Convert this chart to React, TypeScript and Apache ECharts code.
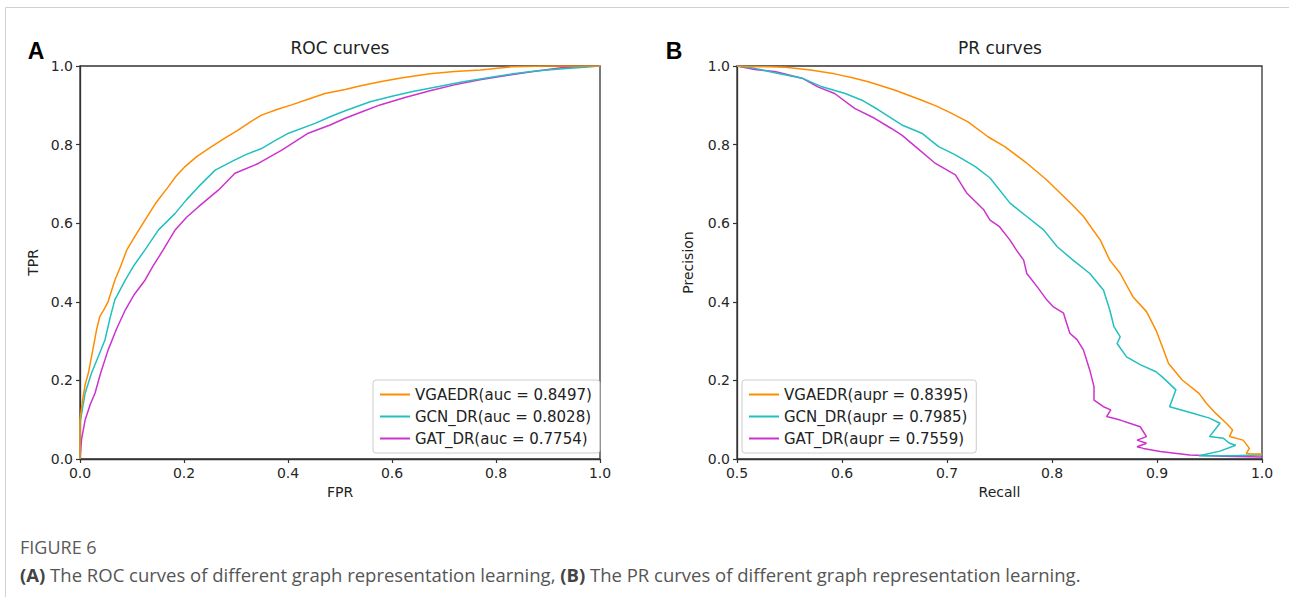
import React, { useEffect, useRef } from "react";
import * as echarts from "echarts";

const COLORS = ["#ff8c00", "#22bfbf", "#cc33cc"];

const rocNames = ["VGAEDR(auc = 0.8497)", "GCN_DR(auc = 0.8028)", "GAT_DR(auc = 0.7754)"];
const prNames = ["VGAEDR(aupr = 0.8395)", "GCN_DR(aupr = 0.7985)", "GAT_DR(aupr = 0.7559)"];

const rocTicks = [0, 0.2, 0.4, 0.6, 0.8, 1.0];
const prTicks = [0.5, 0.6, 0.7, 0.8, 0.9, 1.0];

const rocVgaedr = [[0,0],[0,0.10],[0.005,0.15],[0.01,0.19],[0.016,0.218],[0.025,0.28],[0.032,0.33],[0.038,0.362],[0.046,0.38],[0.054,0.40],[0.067,0.455],[0.078,0.49],[0.09,0.532],[0.105,0.565],[0.125,0.608],[0.145,0.65],[0.17,0.693],[0.185,0.72],[0.202,0.744],[0.225,0.77],[0.253,0.795],[0.28,0.818],[0.304,0.837],[0.33,0.86],[0.349,0.875],[0.38,0.89],[0.407,0.901],[0.44,0.916],[0.471,0.93],[0.51,0.94],[0.54,0.95],[0.577,0.96],[0.62,0.97],[0.673,0.98],[0.72,0.986],[0.77,0.99],[0.83,0.998],[0.9,1.0],[1,1]];
const rocGcn = [[0,0],[0,0.09],[0.005,0.13],[0.01,0.168],[0.022,0.218],[0.035,0.26],[0.048,0.303],[0.058,0.36],[0.067,0.405],[0.087,0.455],[0.105,0.495],[0.125,0.532],[0.151,0.583],[0.183,0.625],[0.205,0.66],[0.228,0.693],[0.26,0.735],[0.298,0.761],[0.32,0.775],[0.349,0.79],[0.375,0.81],[0.401,0.829],[0.452,0.854],[0.481,0.871],[0.51,0.886],[0.558,0.909],[0.6,0.923],[0.64,0.935],[0.69,0.948],[0.737,0.96],[0.785,0.97],[0.833,0.98],[0.88,0.988],[0.929,0.993],[0.97,0.997],[1,1]];
const rocGat = [[0,0],[0.003,0.05],[0.01,0.1],[0.02,0.14],[0.029,0.168],[0.04,0.22],[0.054,0.277],[0.07,0.33],[0.087,0.379],[0.105,0.42],[0.125,0.455],[0.14,0.49],[0.16,0.532],[0.183,0.583],[0.205,0.615],[0.228,0.642],[0.266,0.684],[0.298,0.727],[0.343,0.752],[0.388,0.786],[0.439,0.829],[0.481,0.85],[0.51,0.867],[0.545,0.885],[0.577,0.901],[0.625,0.92],[0.673,0.937],[0.72,0.952],[0.769,0.965],[0.82,0.976],[0.865,0.985],[0.929,0.996],[0.97,0.999],[1,1]];

const prVgaedr = [[0.5,1.0],[0.546,0.997],[0.57,0.99],[0.593,0.98],[0.61,0.97],[0.625,0.96],[0.65,0.939],[0.676,0.913],[0.69,0.898],[0.704,0.88],[0.72,0.858],[0.739,0.82],[0.755,0.795],[0.775,0.755],[0.795,0.71],[0.808,0.676],[0.82,0.645],[0.83,0.617],[0.846,0.557],[0.855,0.506],[0.865,0.472],[0.877,0.413],[0.89,0.375],[0.899,0.328],[0.905,0.286],[0.911,0.243],[0.924,0.201],[0.94,0.167],[0.947,0.142],[0.956,0.116],[0.966,0.091],[0.972,0.074],[0.969,0.057],[0.982,0.048],[0.988,0.027],[0.985,0.014],[0.99,0.013],[1.0,0.013]];
const prGcn = [[0.5,1.0],[0.517,0.994],[0.536,0.983],[0.562,0.969],[0.581,0.947],[0.603,0.93],[0.619,0.913],[0.635,0.888],[0.657,0.85],[0.676,0.829],[0.692,0.795],[0.708,0.774],[0.727,0.744],[0.741,0.715],[0.76,0.651],[0.776,0.617],[0.792,0.583],[0.805,0.54],[0.82,0.506],[0.836,0.472],[0.849,0.43],[0.855,0.379],[0.859,0.337],[0.865,0.311],[0.862,0.294],[0.871,0.26],[0.884,0.24],[0.899,0.222],[0.905,0.209],[0.918,0.176],[0.912,0.133],[0.935,0.116],[0.95,0.104],[0.96,0.091],[0.95,0.057],[0.963,0.053],[0.969,0.04],[0.975,0.035],[0.96,0.02],[0.94,0.008],[0.97,0.008],[1.0,0.01]];
const prGat = [[0.5,1.0],[0.517,0.991],[0.536,0.986],[0.562,0.969],[0.577,0.947],[0.593,0.93],[0.612,0.892],[0.631,0.867],[0.647,0.841],[0.657,0.824],[0.67,0.795],[0.689,0.752],[0.708,0.723],[0.719,0.676],[0.735,0.634],[0.741,0.608],[0.75,0.591],[0.76,0.557],[0.766,0.532],[0.773,0.506],[0.776,0.472],[0.786,0.438],[0.795,0.405],[0.801,0.388],[0.811,0.371],[0.814,0.345],[0.817,0.32],[0.824,0.303],[0.83,0.277],[0.836,0.226],[0.84,0.184],[0.84,0.15],[0.849,0.133],[0.856,0.125],[0.852,0.108],[0.865,0.099],[0.874,0.091],[0.884,0.082],[0.89,0.057],[0.881,0.048],[0.89,0.04],[0.881,0.031],[0.887,0.027],[0.903,0.019],[0.931,0.01],[0.963,0.007],[1.0,0.005]];

const FONT = "DejaVu Sans";
const AX = "#333333";

function axisCommon(name: string, gap: number, min: number, max: number) {
  return {
    type: "value",
    min,
    max,
    interval: 0.1,
    name,
    nameLocation: "middle",
    nameGap: gap,
    nameTextStyle: { fontFamily: FONT, fontSize: 14, color: "#222" },
    axisLine: { show: true, onZero: false, lineStyle: { color: AX, width: 1.3 } },
    axisTick: { show: true, inside: false, length: 4, lineStyle: { color: AX, width: 1.2 } },
    axisLabel: {
      fontFamily: FONT,
      fontSize: 14,
      color: "#262626",
      margin: 7,
      formatter: (v: number) => v.toFixed(1),
    },
    splitLine: { show: false },
  };
}

export default function App() {
  const ref = useRef<HTMLDivElement>(null);
  useEffect(() => {
    if (!ref.current) return;
    const chart = echarts.init(ref.current, null, { renderer: "svg" });
    const xA: any = { ...axisCommon("FPR", 25, 0, 1), gridIndex: 0, interval: 0.2 };
    const yA: any = { ...axisCommon("TPR", 40, 0, 1), gridIndex: 0, interval: 0.2 };
    const xB: any = { ...axisCommon("Recall", 25, 0.5, 1), gridIndex: 1, interval: 0.1 };
    const yB: any = { ...axisCommon("Precision", 42, 0, 1), gridIndex: 1, interval: 0.2 };
    const rocData = [rocVgaedr, rocGcn, rocGat];
    const prData = [prVgaedr, prGcn, prGat];
    const series: any[] = [];
    rocData.forEach((d, i) =>
      series.push({
        type: "line",
        name: rocNames[i],
        xAxisIndex: 0,
        yAxisIndex: 0,
        data: d,
        symbol: "none",
        lineStyle: { color: COLORS[i], width: 1.5 },
        itemStyle: { color: COLORS[i] },
        z: 10 - i,
      })
    );
    prData.forEach((d, i) =>
      series.push({
        type: "line",
        name: prNames[i],
        xAxisIndex: 1,
        yAxisIndex: 1,
        data: d,
        symbol: "none",
        lineStyle: { color: COLORS[i], width: 1.5 },
        itemStyle: { color: COLORS[i] },
        z: 10 - i,
      })
    );
    const legendCommon = {
      orient: "vertical",
      icon: "rect",
      itemWidth: 30,
      itemHeight: 2,
      itemGap: 7,
      padding: [7, 8, 7, 7],
      borderColor: "#cccccc",
      borderWidth: 1,
      borderRadius: 3,
      backgroundColor: "rgba(255,255,255,0.85)",
      textStyle: { fontFamily: FONT, fontSize: 15, color: "#222" },
      selectedMode: false,
    };
    const txt = (text: string, x: number, y: number, extra: any = {}) => ({
      type: "text",
      x,
      y,
      style: {
        text,
        fontFamily: FONT,
        fontSize: 16,
        fill: "#222",
        textAlign: "center",
        textVerticalAlign: "middle",
        align: "center",
        verticalAlign: "middle",
        ...extra,
      },
    });
    chart.setOption({
      animation: false,
      backgroundColor: "#ffffff",
      grid: [
        { left: 80, top: 66, width: 520, height: 393, show: true, borderColor: AX, borderWidth: 1.3, backgroundColor: "transparent" },
        { left: 737, top: 66, width: 525, height: 393, show: true, borderColor: AX, borderWidth: 1.3, backgroundColor: "transparent" },
      ],
      xAxis: [xA, xB],
      yAxis: [yA, yB],
      legend: [
        { ...legendCommon, data: rocNames, left: 373, top: 380 },
        { ...legendCommon, data: prNames, left: 742, top: 380 },
      ],
      series,
      graphic: [
        {
          type: "polyline",
          shape: { points: [[5.5, 620], [5.5, 7.5], [1300, 7.5]] },
          style: { stroke: "#d0d0d0", lineWidth: 1, fill: "none" },
          silent: true,
        },
        txt("ROC curves", 340, 48, { fontSize: 17 }),
        txt("PR curves", 1000, 48, { fontSize: 17 }),
        txt("A", 36, 51, { fontFamily: "Liberation Sans", fontWeight: "bold", fontSize: 23, fill: "#000" }),
        txt("B", 674, 51, { fontFamily: "Liberation Sans", fontWeight: "bold", fontSize: 23, fill: "#000" }),
        txt("FIGURE 6", 20, 547, { fontFamily: "Open Sans", fontSize: 18, fill: "#5a5a5a", textAlign: "left", align: "left" }),
        {
          type: "text",
          x: 20,
          y: 574,
          style: {
            text: "{b|(A)} The ROC curves of different graph representation learning, {b|(B)} The PR curves of different graph representation learning.",
            fontFamily: "Open Sans",
            fontSize: 18.5,
            fill: "#555",
            textAlign: "left",
            textVerticalAlign: "middle",
            align: "left",
            verticalAlign: "middle",
            rich: {
              b: { fontFamily: "Open Sans", fontSize: 18.5, fontWeight: "bold", fill: "#444" },
            },
          },
        },
      ],
    });
    return () => chart.dispose();
  }, []);
  return (
    <div
      ref={ref}
      style={{ position: "absolute", left: 0, top: 0, width: 1289, height: 597 }}
    />
  );
}
